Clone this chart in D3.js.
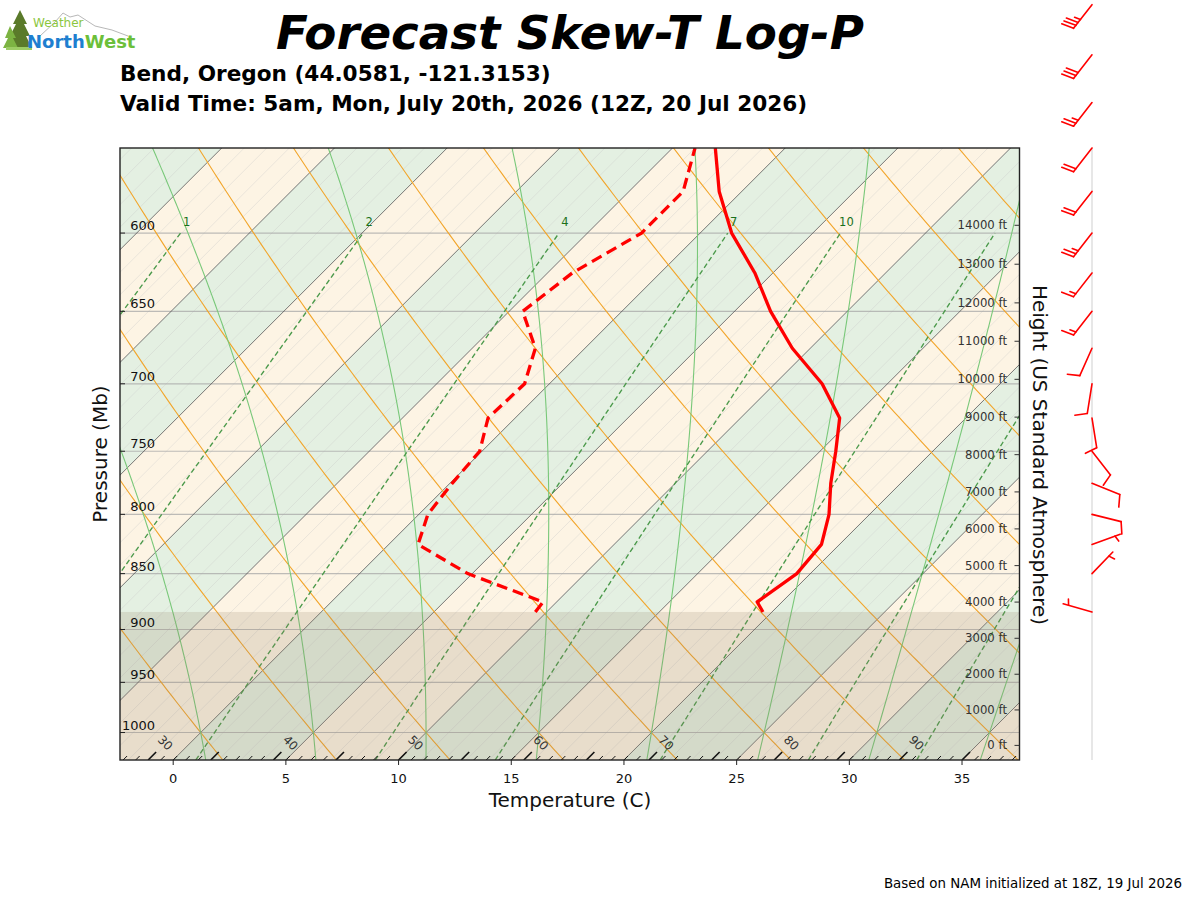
<!DOCTYPE html>
<html><head><meta charset="utf-8">
<script src="https://cdn.jsdelivr.net/npm/d3@7"></script>
<style>body{margin:0;background:#fff} svg{display:block;font-family:"DejaVu Sans",sans-serif}</style>
</head><body><svg id="c" width="1200" height="900"></svg>
<script>
// ---------------- DATA ----------------
const profilePressure = [884, 875, 850, 825, 800, 775, 750, 725, 700, 675, 650, 625, 600, 575, 550];
const temperatureC    = [19.6, 18.9, 19.4, 19.2, 18.2, 16.9, 15.7, 14.4, 12.1, 9.2, 6.6, 4.2, 1.4, -1.0, -3.1];
const dewpointC       = [9.5, 9.4, 4.8, 1.3, 0.4, 0.1, -0.1, -1.2, -1.1, -2.2, -4.4, -3.9, -2.6, -2.6, -4.0];
const surfacePressure = 884;

const barbPressure = [475, 500, 525, 550, 575, 600, 625, 650, 675, 700, 725, 750, 775, 800, 825, 850, 884];
const barbDirection = [218, 218, 218, 218, 218, 218, 218, 218, 204, 189, 171, 142, 112, 104, 70, 44, 286];
const barbSpeedKt = [35, 30, 25, 20, 20, 25, 15, 15, 10, 10, 10, 10, 10, 10, 5, 5, 5];

const pressureTicks = [600, 650, 700, 750, 800, 850, 900, 950, 1000];
const tempTicks = [0, 5, 10, 15, 20, 25, 30, 35];
const heightTicksFt = [0, 1000, 2000, 3000, 4000, 5000, 6000, 7000, 8000, 9000, 10000, 11000, 12000, 13000, 14000];
const mixingRatios = [0.4, 1, 2, 4, 7, 10, 16, 24, 32];
const mixingLabels = [1, 2, 4, 7, 10];
const dryAdiabats = d3.range(-10, 75, 5);
const moistAdiabats = [-5, 0, 5, 10, 15, 20, 25, 30, 35];
const fahrenheitLabels = [30, 40, 50, 60, 70, 80, 90];

const titleText = "Forecast Skew-T Log-P";
const subtitle1 = "Bend, Oregon (44.0581, -121.3153)";
const subtitle2 = "Valid Time: 5am, Mon, July 20th, 2026 (12Z, 20 Jul 2026)";
const footerText = "Based on NAM initialized at 18Z, 19 Jul 2026";

// ---------------- GEOMETRY ----------------
const L = 120, R = 1019.5, T = 148, B = 760;
const pBottom = 1028.5, pTop = 550;
const xs = d3.scaleLinear().domain([-2.36, 37.55]).range([L, R]);
const ys = d3.scaleLog().domain([pBottom, pTop]).range([B, T]);
const sx = (t, p) => xs(t) + (B - ys(p));

const Rd = 287.04749, Cp = 1004.6662, Lv = 2.50084e6, EPS = 0.6219569;
const es = tc => 6.112 * Math.exp(17.67 * tc / (tc + 243.5));
function dTdp(p, Tk) {
  const e = es(Tk - 273.15), rs = EPS * e / (p - e);
  return (Rd * Tk + Lv * rs) / (Cp + Lv * Lv * rs * EPS / (Rd * Tk * Tk)) / p;
}
function moistPath(t0) {
  function integ(pEnd, h) {
    let Tk = t0 + 273.15, p = 1000; const out = [];
    while ((h < 0 && p > pEnd) || (h > 0 && p < pEnd)) {
      const k1 = dTdp(p, Tk), k2 = dTdp(p + h / 2, Tk + h / 2 * k1),
            k3 = dTdp(p + h / 2, Tk + h / 2 * k2), k4 = dTdp(p + h, Tk + h * k3);
      Tk += h / 6 * (k1 + 2 * k2 + 2 * k3 + k4); p += h; out.push([p, Tk - 273.15]);
    }
    return out;
  }
  const up = integ(520, -2), down = integ(1035, 2);
  return down.reverse().concat([[1000, t0]], up);
}
function dewFromW(wgkg, p) {
  const w = wgkg / 1000, e = p * w / (EPS + w), v = Math.log(e / 6.112);
  return 243.5 * v / (17.67 - v);
}

const svg = d3.select("#c");
const defs = svg.append("defs");
defs.append("clipPath").attr("id", "plot").append("rect").attr("x", L).attr("y", T).attr("width", R - L).attr("height", B - T);
const line = d3.line();
const plot = svg.append("g").attr("clip-path", "url(#plot)");

// bands
d3.range(-35, 40, 5).forEach(t0 => {
  const idx = Math.round(t0 / 5);
  const pts = [[sx(t0, pBottom), B], [sx(t0 + 5, pBottom), B], [sx(t0 + 5, pTop), T], [sx(t0, pTop), T]];
  plot.append("path").attr("d", line(pts) + "Z").attr("fill", (idx % 2 === 0) ? "#e4f0e2" : "#fdf4e4");
});
// faint isotherms every 1C
d3.range(-35, 40, 1).forEach(t => {
  plot.append("path").attr("d", line([[sx(t, pBottom), B], [sx(t, pTop), T]]))
    .attr("stroke", "#c9c9c9").attr("stroke-width", 0.5).attr("opacity", 0.7).attr("fill", "none");
});
// pressure grid
pressureTicks.forEach(p => {
  plot.append("line").attr("x1", L).attr("x2", R).attr("y1", ys(p)).attr("y2", ys(p))
    .attr("stroke", "#a8a8a8").attr("stroke-width", 1.2).attr("opacity", 0.75);
});
// isotherms every 5C
d3.range(-35, 40, 5).forEach(t => {
  plot.append("path").attr("d", line([[sx(t, pBottom), B], [sx(t, pTop), T]]))
    .attr("stroke", "#3c3c3c").attr("stroke-width", 0.75).attr("opacity", 0.85).attr("fill", "none");
});
// dry adiabats
const pLevels = d3.range(pBottom, 539, -4).concat([540]);
dryAdiabats.forEach(th => {
  const pts = pLevels.map(p => [sx((th + 273.15) * Math.pow(p / 1000, Rd / Cp) - 273.15, p), ys(p)]);
  plot.append("path").attr("d", line(pts)).attr("fill", "none").attr("stroke", "#f2a52a").attr("stroke-width", 1.1);
});
// moist adiabats
moistAdiabats.forEach(t0 => {
  const pts = moistPath(t0).map(d => [sx(d[1], d[0]), ys(d[0])]);
  plot.append("path").attr("d", line(pts)).attr("fill", "none").attr("stroke", "#79c879").attr("stroke-width", 1.1);
});
// mixing ratio lines
const pMix = d3.range(pBottom, 600, -5).concat([600]);
mixingRatios.forEach(w => {
  const pts = pMix.map(p => [sx(dewFromW(w, p), p), ys(p)]);
  plot.append("path").attr("d", line(pts)).attr("fill", "none").attr("stroke", "#4a994a")
    .attr("stroke-width", 1.35).attr("stroke-dasharray", "5,3");
});
mixingLabels.forEach(w => {
  plot.append("text").attr("x", sx(dewFromW(w, 600), 600) + 6).attr("y", ys(600) - 7)
    .attr("text-anchor", "middle").attr("font-size", 11.5).attr("fill", "#1a701a").text(w);
});
// below-ground shading
plot.append("rect").attr("x", L).attr("y", ys(surfacePressure)).attr("width", R - L).attr("height", B - ys(surfacePressure))
  .attr("fill", "rgb(148,128,103)").attr("opacity", 0.2);

// profiles
const tPts = profilePressure.map((p, i) => [sx(temperatureC[i], p), ys(p)]);
const dPts = profilePressure.map((p, i) => [sx(dewpointC[i], p), ys(p)]);
plot.append("path").attr("d", line(tPts)).attr("fill", "none").attr("stroke", "#ff0000").attr("stroke-width", 3.3).attr("stroke-linejoin", "round");
plot.append("path").attr("d", line(dPts)).attr("fill", "none").attr("stroke", "#ff0000").attr("stroke-width", 3.3).attr("stroke-dasharray", "11,6");

// Fahrenheit skewed ticks along bottom
const fg = svg.append("g").attr("clip-path", "url(#plot)");
d3.range(20, 101, 1).forEach(F => {
  const tc = (F - 32) * 5 / 9, x = xs(tc), big = F % 5 === 0, len = big ? 8 : 4;
  fg.append("line").attr("x1", x).attr("y1", B).attr("x2", x + len).attr("y2", B - len)
    .attr("stroke", "#111").attr("stroke-width", big ? 1.6 : 1);
});
fahrenheitLabels.forEach(F => {
  const x = xs((F - 32) * 5 / 9) + 17, y = B - 17;
  fg.append("text").attr("transform", `translate(${x},${y}) rotate(45)`).attr("text-anchor", "middle")
    .attr("dominant-baseline", "central").attr("font-size", 12).attr("fill", "#333").text(F);
});

// frame
svg.append("rect").attr("x", L).attr("y", T).attr("width", R - L).attr("height", B - T)
  .attr("fill", "none").attr("stroke", "#222").attr("stroke-width", 1.4);

// left pressure labels & ticks
pressureTicks.forEach(p => {
  svg.append("line").attr("x1", L).attr("x2", L + 5).attr("y1", ys(p)).attr("y2", ys(p)).attr("stroke", "#222").attr("stroke-width", 1);
  svg.append("text").attr("x", 155).attr("y", ys(p) - 3).attr("text-anchor", "end").attr("font-size", 13).attr("fill", "#111").text(p);
});
// bottom temperature ticks
tempTicks.forEach(t => {
  svg.append("line").attr("x1", xs(t)).attr("x2", xs(t)).attr("y1", B).attr("y2", B + 5).attr("stroke", "#222");
  svg.append("text").attr("x", xs(t)).attr("y", 783).attr("text-anchor", "middle").attr("font-size", 13).attr("fill", "#111").text(t);
});
// right height ticks
heightTicksFt.forEach(h => {
  const p = 1013.25 * Math.pow(1 - 2.25577e-5 * h * 0.3048, 5.25588), y = ys(p);
  svg.append("line").attr("x1", R - 5).attr("x2", R).attr("y1", y).attr("y2", y).attr("stroke", "#333");
  svg.append("text").attr("x", 1007).attr("y", y).attr("dominant-baseline", "central").attr("text-anchor", "end")
    .attr("font-size", 11.7).attr("fill", "#333").text(h + " ft");
});

// axis titles
svg.append("text").attr("transform", "translate(107,454) rotate(-90)").attr("text-anchor", "middle").attr("font-size", 20).attr("fill", "#111").text("Pressure (Mb)");
svg.append("text").attr("x", 570).attr("y", 807).attr("text-anchor", "middle").attr("font-size", 20).attr("fill", "#111").text("Temperature (C)");
svg.append("text").attr("transform", "translate(1033,455) rotate(90)").attr("text-anchor", "middle").attr("font-size", 20).attr("fill", "#111").text("Height (US Standard Atmosphere)");

// titles
svg.append("text").attr("x", 570).attr("y", 49).attr("text-anchor", "middle").attr("font-size", 46.7)
  .attr("font-weight", "bold").attr("font-style", "italic").attr("fill", "#000").text(titleText);
svg.append("text").attr("x", 120).attr("y", 81).attr("font-size", 21.6).attr("font-weight", "bold").attr("fill", "#000").text(subtitle1);
svg.append("text").attr("x", 120).attr("y", 111).attr("font-size", 21.6).attr("font-weight", "bold").attr("fill", "#000").text(subtitle2);
svg.append("text").attr("x", 1182).attr("y", 888).attr("text-anchor", "end").attr("font-size", 13.4).attr("fill", "#000").text(footerText);

// wind barbs
const bx = 1092;
svg.append("line").attr("x1", bx).attr("x2", bx).attr("y1", T).attr("y2", B).attr("stroke", "#cfcfcf").attr("stroke-width", 1);
const BL = 30, sp = 0.125 * BL;
barbPressure.forEach((p, i) => {
  const by = ys(p), rad = barbDirection[i] * Math.PI / 180;
  const s = [Math.sin(rad), -Math.cos(rad)], n = [-s[1], s[0]];
  const g = svg.append("g").attr("stroke", "#ff0000").attr("stroke-width", 1.6).attr("fill", "none").attr("stroke-linecap", "round");
  const at = o => [bx + s[0] * o, by + s[1] * o];
  g.append("path").attr("d", line([[bx, by], at(BL)]));
  let spd = Math.round(barbSpeedKt[i] / 5) * 5;
  const flags = Math.floor(spd / 50); spd -= flags * 50;
  const full = Math.floor(spd / 10); spd -= full * 10;
  const half = spd >= 5;
  let off = BL;
  for (let k = 0; k < full; k++) {
    const a = at(off);
    g.append("path").attr("d", line([a, [a[0] + n[0] * 0.4 * BL + s[0] * 0.125 * BL, a[1] + n[1] * 0.4 * BL + s[1] * 0.125 * BL]]));
    off -= sp;
  }
  if (half) {
    if (full === 0 && flags === 0) off -= 1.5 * sp;
    const a = at(off);
    g.append("path").attr("d", line([a, [a[0] + n[0] * 0.2 * BL + s[0] * 0.0625 * BL, a[1] + n[1] * 0.2 * BL + s[1] * 0.0625 * BL]]));
  }
});

// logo
const logo = svg.append("g");
logo.append("path").attr("d", "M40,36 L55,22 L63,13 L70,17 L78,15 L95,26 L112,30 L128,36").attr("fill", "none").attr("stroke", "#b8b8b8").attr("stroke-width", 1);
logo.append("path").attr("d", "M20,10 L13,24 L16,24 L10,36 L14,36 L8,48 L32,48 L26,36 L30,36 L24,24 L27,24 Z").attr("fill", "#5a7a2a");
logo.append("path").attr("d", "M10,26 L5,38 L8,38 L3,48 L18,48 L13,38 L16,38 Z").attr("fill", "#7cb342");
logo.append("rect").attr("x", 6).attr("y", 47).attr("width", 26).attr("height", 3).attr("fill", "#9ccc65");
logo.append("text").attr("x", 33).attr("y", 27).attr("font-size", 12).attr("fill", "#8cc63f").text("Weather");
const nw = logo.append("text").attr("x", 27).attr("y", 48).attr("font-size", 18).attr("font-weight", "bold");
nw.append("tspan").attr("fill", "#1e7fd0").text("North");
nw.append("tspan").attr("fill", "#6cbf3a").text("West");
</script></body></html>
